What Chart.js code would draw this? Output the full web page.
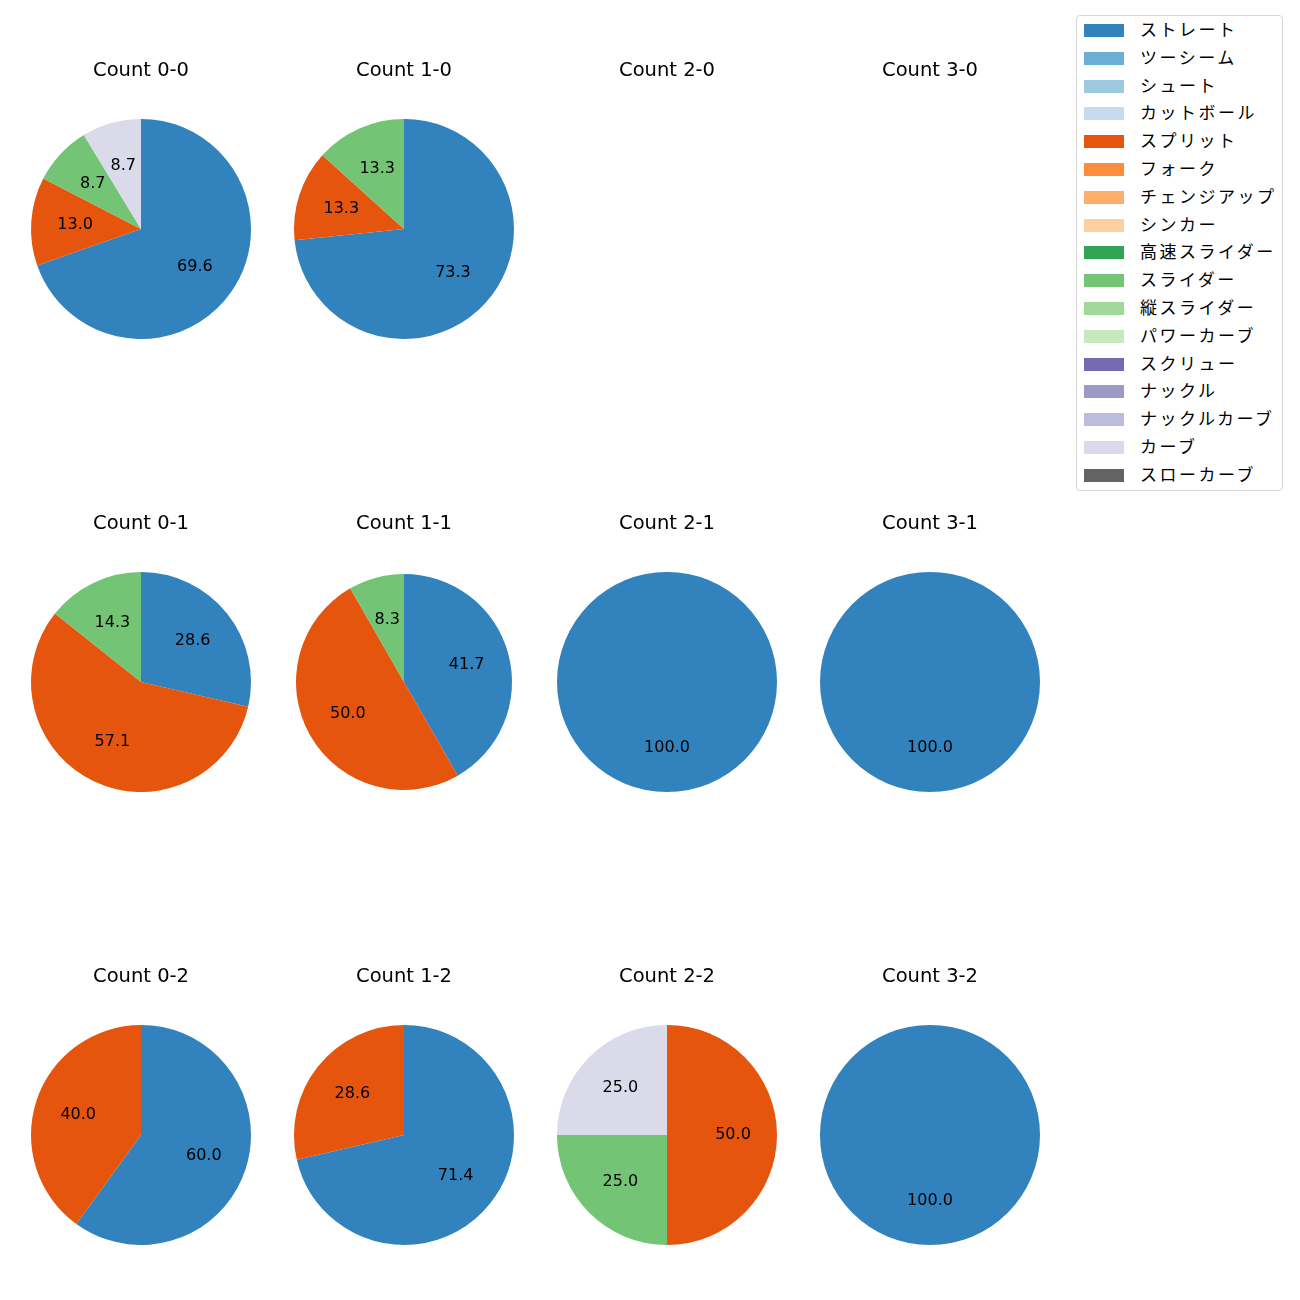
<!DOCTYPE html>
<html>
<head>
<meta charset="utf-8">
<script src="https://cdn.jsdelivr.net/npm/chart.js@4.4.0/dist/chart.umd.min.js"></script>
<style>
  body { margin: 0; background: #fff; width: 1300px; height: 1300px; position: relative; overflow: hidden; }
  canvas { position: absolute; }
  #legend {
    position: absolute; left: 1076px; top: 15px; width: 205px; height: 474px;
    border: 1px solid #d5d5d5; border-radius: 4px; background: #fff;
    font-family: "Noto Sans CJK JP", sans-serif; font-size: 17px; color: #000;
  }
  .item { position: absolute; left: 0; height: 20px; }
  .patch { position: absolute; left: 7px; top: 4px; width: 40px; height: 13px; }
  .txt { position: absolute; left: 63px; top: -4px; white-space: nowrap; letter-spacing: 2.5px; }
</style>
</head>
<body>
<div id="legend"></div>
<script>
// pitch types in legend order and their colours
const pitchTypes = ["ストレート", "ツーシーム", "シュート", "カットボール", "スプリット", "フォーク",
  "チェンジアップ", "シンカー", "高速スライダー", "スライダー", "縦スライダー", "パワーカーブ",
  "スクリュー", "ナックル", "ナックルカーブ", "カーブ", "スローカーブ"];
const pitchColors = ["#3182bd", "#6baed6", "#9ecae1", "#c6dbef", "#e6550d", "#fd8d3c",
  "#fdae6b", "#fdd0a2", "#31a354", "#74c476", "#a1d99b", "#c7e9c0",
  "#756bb1", "#9e9ac8", "#bcbddc", "#dadaeb", "#636363"];

// counts, row by row (strikes), balls across
const counts = ["0-0", "1-0", "2-0", "3-0", "0-1", "1-1", "2-1", "3-1", "0-2", "1-2", "2-2", "3-2"];

// percentage per count, only the pitch types that appear
const straight = [69.6, 73.3, 0, 0, 28.6, 41.7, 100.0, 100.0, 60.0, 71.4, 0, 100.0];
const split    = [13.0, 13.3, 0, 0, 57.1, 50.0, 0, 0, 40.0, 28.6, 50.0, 0];
const slider   = [8.7, 13.3, 0, 0, 14.3, 8.3, 0, 0, 0, 0, 25.0, 0];
const curve    = [8.7, 0, 0, 0, 0, 0, 0, 0, 0, 0, 25.0, 0];

const colCenters = [141, 404, 667, 930];
const rowCenters = [229, 682, 1135];

function valuesFor(i) {
  const v = pitchTypes.map(() => 0);
  v[pitchTypes.indexOf("ストレート")] = straight[i];
  v[pitchTypes.indexOf("スプリット")] = split[i];
  v[pitchTypes.indexOf("スライダー")] = slider[i];
  v[pitchTypes.indexOf("カーブ")] = curve[i];
  return v;
}

// title above and percentage labels inside the wedges
const piePlugin = {
  id: "pieText",
  afterDraw(chart) {
    const ctx = chart.ctx;
    const meta = chart.getDatasetMeta(0);
    const data = chart.data.datasets[0].data;
    ctx.save();
    ctx.fillStyle = "#000";
    ctx.textAlign = "center";
    ctx.textBaseline = "middle";
    ctx.font = '19.5px "DejaVu Sans", sans-serif';
    const cx = (chart.chartArea.left + chart.chartArea.right) / 2;
    const cy = (chart.chartArea.top + chart.chartArea.bottom) / 2;
    ctx.fillText(chart.options.plugins.pieText.title, cx, cy - 158.5);
    ctx.font = '16px "DejaVu Sans", sans-serif';
    meta.data.forEach((arc, k) => {
      if (!data[k]) return;
      const p = arc.getProps(["x", "y", "startAngle", "endAngle", "outerRadius"], true);
      const mid = (p.startAngle + p.endAngle) / 2;
      const r = p.outerRadius * 0.6;
      ctx.fillText(data[k].toFixed(1), p.x + Math.cos(mid) * r, p.y + Math.sin(mid) * r);
    });
    ctx.restore();
  }
};

counts.forEach((c, i) => {
  const cx = colCenters[i % 4];
  const cy = rowCenters[Math.floor(i / 4)];
  const canvas = document.createElement("canvas");
  canvas.width = 260;
  canvas.height = 300;
  canvas.style.left = (cx - 130) + "px";
  canvas.style.top = (cy - 175) + "px";
  document.body.appendChild(canvas);
  new Chart(canvas, {
    type: "pie",
    data: {
      labels: pitchTypes,
      datasets: [{
        data: valuesFor(i),
        backgroundColor: pitchColors,
        borderWidth: 0
      }]
    },
    options: {
      responsive: false,
      devicePixelRatio: 1,
      animation: false,
      radius: c === "1-1" ? 108 : 110,
      layout: { padding: { left: 20, right: 20, top: 65, bottom: 15 } },
      plugins: {
        legend: { display: false },
        tooltip: { enabled: false },
        pieText: { title: "Count " + c }
      }
    },
    plugins: [piePlugin]
  });
});

// legend
const legend = document.getElementById("legend");
pitchTypes.forEach((name, k) => {
  const item = document.createElement("div");
  item.className = "item";
  item.style.top = (4 + k * 27.8) + "px";
  item.innerHTML = '<div class="patch" style="background:' + pitchColors[k] + '"></div><div class="txt">' + name + "</div>";
  legend.appendChild(item);
});
</script>
</body>
</html>
